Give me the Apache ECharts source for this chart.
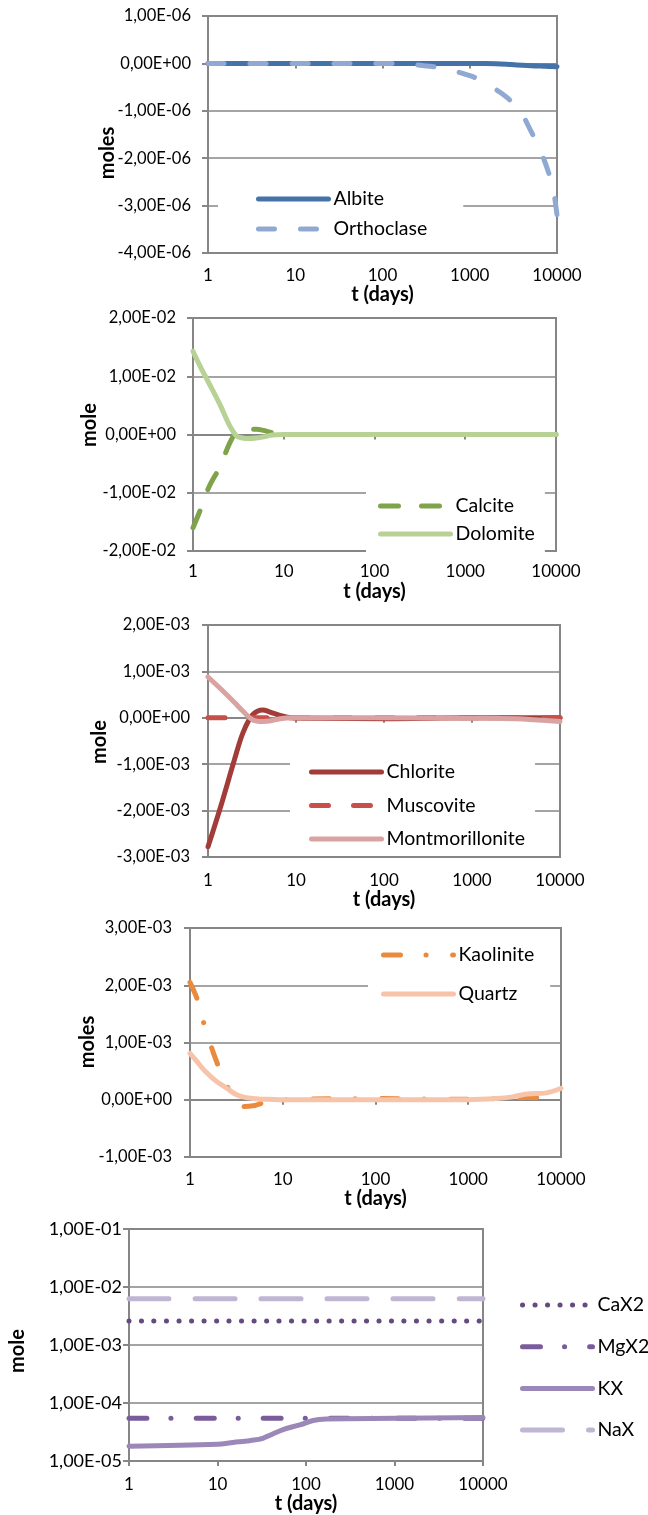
<!DOCTYPE html>
<html><head><meta charset="utf-8">
<script src="https://cdn.jsdelivr.net/npm/echarts@6/dist/echarts.min.js"></script>
<style>html,body{margin:0;padding:0;background:#fff}#c{width:648px;height:1515px}</style>
</head><body><div id="c"></div>
<script>
// ---- data ----
const xTicks = [1, 10, 100, 1000, 10000];
const xTitle = 't (days)';
const yTitles = ['moles', 'mole', 'mole', 'moles', 'mole'];

// panel 1
const t1 = [1, 10, 100, 200, 300, 500, 1000, 1500, 2000, 3000, 4000, 5000, 6000, 7000, 8000, 9000, 10000];
const albite = [0, 0, 0, 0, 0, 0, 0, 0, -0.005e-6, -0.025e-6, -0.04e-6, -0.05e-6, -0.055e-6, -0.06e-6, -0.064e-6, -0.067e-6, -0.07e-6];
const orthoclase = [0, 0, 0, -0.02e-6, -0.05e-6, -0.1e-6, -0.26e-6, -0.4e-6, -0.55e-6, -0.8e-6, -1.08e-6, -1.42e-6, -1.72e-6, -2.0e-6, -2.3e-6, -2.62e-6, -3.2e-6];

// panel 2
const t2 = [1, 1.2, 1.5, 2, 2.5, 3, 3.5, 4.2, 5, 6, 7.5, 10, 100, 1000, 10000];
const calcite = [-1.6e-2, -1.3e-2, -0.9e-2, -0.54e-2, -0.17e-2, 0.04e-2, 0.08e-2, 0.09e-2, 0.09e-2, 0.07e-2, 0.03e-2, 0, 0, 0, 0];
const dolomite = [1.43e-2, 1.17e-2, 0.88e-2, 0.5e-2, 0.17e-2, -0.02e-2, -0.06e-2, -0.07e-2, -0.06e-2, -0.04e-2, -0.01e-2, 0, 0, 0, 0];

// panel 3
const t3 = [1, 1.4, 2, 2.5, 3.2, 4.2, 5, 6.6, 9, 20, 100, 1000, 3000, 10000];
const chlorite = [-2.78e-3, -1.9e-3, -0.9e-3, -0.32e-3, 0.06e-3, 0.17e-3, 0.13e-3, 0.05e-3, 0, -0.01e-3, -0.02e-3, 0, 0, 0];
const muscovite = [0, 0, 0, 0, 0, 0, 0, 0, 0, 0, 0, 0, 0, 0];
const montmorillonite = [0.88e-3, 0.62e-3, 0.33e-3, 0.14e-3, -0.04e-3, -0.08e-3, -0.07e-3, -0.02e-3, 0, 0, 0, -0.01e-3, -0.02e-3, -0.08e-3];

// panel 4
const t4 = [1, 1.2, 1.4, 1.9, 2.5, 3, 3.7, 5, 5.7, 7, 10, 100, 1000, 2000, 3000, 4300, 7000, 10000];
const kaolinite = [2.05e-3, 1.75e-3, 1.35e-3, 0.7e-3, 0.25e-3, 0.02e-3, -0.12e-3, -0.1e-3, -0.07e-3, -0.03e-3, 0, 0.02e-3, 0.01e-3, 0.02e-3, 0.03e-3, 0.04e-3, 0.03e-3, 0.05e-3];
const quartz = [0.81e-3, 0.66e-3, 0.53e-3, 0.33e-3, 0.2e-3, 0.11e-3, 0.05e-3, 0.02e-3, 0.01e-3, 0.01e-3, 0, 0, 0, 0.02e-3, 0.05e-3, 0.1e-3, 0.12e-3, 0.2e-3];

// panel 5
const t5 = [1, 10, 15, 23, 33, 55, 85, 120, 170, 1000, 10000];
const caX2 = [2.6e-3, 2.6e-3, 2.6e-3, 2.6e-3, 2.6e-3, 2.6e-3, 2.6e-3, 2.6e-3, 2.6e-3, 2.6e-3, 2.6e-3];
const mgX2 = [5.5e-5, 5.5e-5, 5.5e-5, 5.5e-5, 5.5e-5, 5.5e-5, 5.5e-5, 5.5e-5, 5.5e-5, 5.5e-5, 5.5e-5];
const kX = [1.8e-5, 1.95e-5, 2.1e-5, 2.25e-5, 2.5e-5, 3.5e-5, 4.2e-5, 5.0e-5, 5.3e-5, 5.45e-5, 5.65e-5];
const naX = [6.3e-3, 6.3e-3, 6.3e-3, 6.3e-3, 6.3e-3, 6.3e-3, 6.3e-3, 6.3e-3, 6.3e-3, 6.3e-3, 6.3e-3];

// ---- rendering ----
const FONT = 'Lato, "Open Sans", sans-serif';
const GRIDC = '#868686';

function sci(v) {
  if (Math.abs(v) < 1e-15) return '0,00E+00';
  const s = v < 0 ? '-' : '';
  const a = Math.abs(v);
  let e = Math.floor(Math.log10(a) + 1e-9);
  let m = Math.round(a / Math.pow(10, e) * 100) / 100;
  if (m >= 10) { m /= 10; e += 1; }
  return s + m.toFixed(2).replace('.', ',') + 'E' + (e < 0 ? '-' : '+') + String(Math.abs(e)).padStart(2, '0');
}
function pairs(t, v) { return t.map((x, i) => [x, v[i]]); }

const grids = [
  {left: 208, top: 16, width: 349, height: 237},
  {left: 193, top: 318, width: 363, height: 233},
  {left: 208, top: 625, width: 352, height: 232},
  {left: 190, top: 928, width: 371, height: 229},
  {left: 129, top: 1229, width: 354, height: 241}
].map(g => Object.assign(g, {show: true, borderColor: GRIDC, borderWidth: 2, backgroundColor: 'transparent'}));

const xLabelMargin = [14, 12, 15, 14, 15];
const xNameGap = [26, 31, 27, 26, 27];
const xAxes = grids.map((g, i) => ({
  type: 'log', logBase: 10, gridIndex: i, min: xTicks[0], max: xTicks[xTicks.length - 1],
  name: xTitle, nameLocation: 'middle', nameGap: xNameGap[i],
  nameTextStyle: {fontFamily: FONT, fontWeight: 'bold', fontSize: 20, color: '#000'},
  axisLine: {show: true, lineStyle: {color: GRIDC, width: 2}},
  axisTick: {show: true, inside: false, length: 5, lineStyle: {color: GRIDC, width: 2}},
  minorTick: {show: false},
  splitLine: {show: false},
  axisLabel: {margin: xLabelMargin[i], fontFamily: FONT, fontSize: 17, color: '#000',
    formatter: v => { const r = Math.round(v); return xTicks.includes(r) ? String(r) : ''; }}
}));

const yRanges = [
  {min: -4e-6, max: 1e-6, interval: 1e-6},
  {min: -2e-2, max: 2e-2, interval: 1e-2},
  {min: -3e-3, max: 2e-3, interval: 1e-3},
  {min: -1e-3, max: 3e-3, interval: 1e-3},
  {min: 1e-5, max: 1e-1}
];
const yLabelMargin = [17, 17, 18, 18, 7];
const yAxes = yRanges.map((r, i) => Object.assign({
  type: i === 4 ? 'log' : 'value', gridIndex: i,
  axisLine: {show: true, lineStyle: {color: GRIDC, width: 2}},
  axisTick: {show: true, inside: false, length: 6, lineStyle: {color: GRIDC, width: 2}},
  splitLine: {show: true, lineStyle: {color: GRIDC, width: 1.6}},
  axisLabel: {margin: yLabelMargin[i], fontFamily: FONT, fontSize: i === 4 ? 18 : 16.5, color: '#000', formatter: sci}
}, r, i === 4 ? {logBase: 10} : {}));

function line(name, idx, t, v, color, type) {
  return {
    name, type: 'line', xAxisIndex: idx, yAxisIndex: idx, data: pairs(t, v),
    smooth: 0.35, symbol: 'none', showSymbol: false,
    lineStyle: {color, width: 5, type: type || 'solid', cap: 'round', join: 'round'},
    itemStyle: {color}, emphasis: {disabled: true}
  };
}

const series = [
  line('Albite', 0, t1, albite, '#4672aa'),
  line('Orthoclase', 0, t1, orthoclase, '#8fa9d3', [16, 26]),
  line('Calcite', 1, t2, calcite, '#7fa34a', [18, 23]),
  line('Dolomite', 1, t2, dolomite, '#b8d195'),
  line('Chlorite', 2, t3, chlorite, '#a23c38'),
  line('Muscovite', 2, t3, muscovite, '#c8504b', [17, 25]),
  line('Montmorillonite', 2, t3, montmorillonite, '#d9a3a1'),
  line('Kaolinite', 3, t4, kaolinite, '#e98b3f', [17, 25.5, 0.1, 26.5]),
  line('Quartz', 3, t4, quartz, '#f8c4a9'),
  line('CaX2', 4, t5, caX2, '#664b80', [0.1, 12.4]),
  line('MgX2', 4, t5, mgX2, '#7a5c9c', [18, 24, 0.1, 25]),
  line('KX', 4, t5, kX, '#9b87b8'),
  line('NaX', 4, t5, naX, '#c0b6d3', [40, 26])
];

function legend(names, left, top, gap, pad) {
  return {
    data: names, orient: 'vertical', left, top, itemWidth: 70, itemHeight: 14, itemGap: gap,
    backgroundColor: '#fff', padding: pad, selectedMode: false,
    itemStyle: {opacity: 0},
    lineStyle: {width: 'inherit', type: 'inherit', cap: 'inherit', join: 'inherit'},
    textStyle: {fontFamily: FONT, fontSize: 19.5, color: '#000'}
  };
}
const legends = [
  legend(['Albite', 'Orthoclase'], 218, 181, 10, [8, 36, 8, 38]),
  legend(['Calcite', 'Dolomite'], 366, 487, 8, [9, 10, 8, 12]),
  legend(['Chlorite', 'Muscovite', 'Montmorillonite'], 290, 754, 13.5, [8, 10, 6, 19]),
  legend(['Kaolinite', 'Quartz'], 368, 937, 19, [8, 16, 8, 13]),
  legend(['CaX2', 'MgX2', 'KX', 'NaX'], 520, 1295, 21.7, 0)
];
legends[4].backgroundColor = 'transparent';

const yNamePos = [[108, 153], [90, 425], [100, 742], [88, 1042], [18, 1351]];
const graphic = yNamePos.map((p, i) => ({
  type: 'text', x: p[0], y: p[1], rotation: Math.PI / 2, z: 100,
  style: {text: yTitles[i], font: 'bold 20px ' + FONT, fill: '#000', align: 'center', verticalAlign: 'middle'}
}));

const chart = echarts.init(document.getElementById('c'), null, {renderer: 'canvas'});
chart.setOption({
  animation: false, backgroundColor: '#fff',
  grid: grids, xAxis: xAxes, yAxis: yAxes, series, legend: legends, graphic
});
</script></body></html>
